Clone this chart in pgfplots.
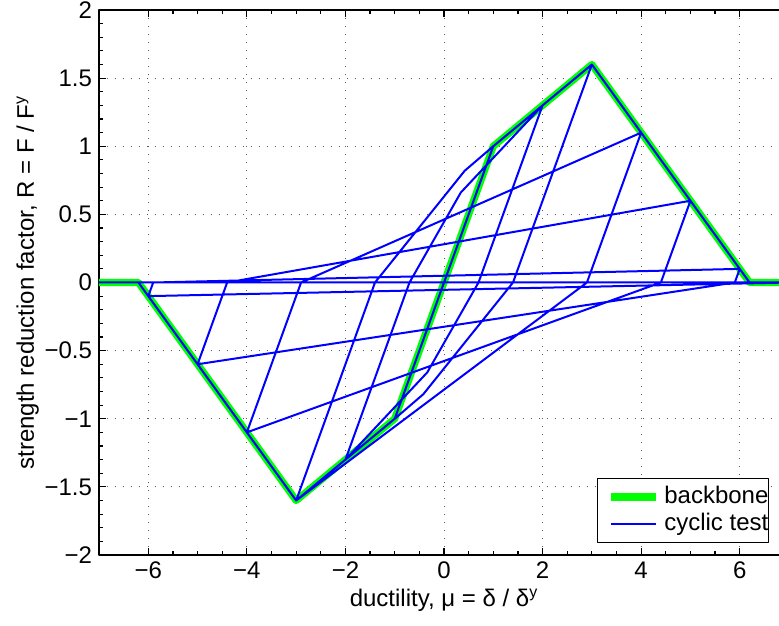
\documentclass[border=0pt]{standalone}
\usepackage{fontspec}
\setmainfont{Liberation Sans}
\usepackage{pgfplots}
\pgfplotsset{compat=1.18}
\definecolor{mgreen}{rgb}{0,1,0}
\definecolor{mblue}{rgb}{0,0,1}
\newcommand{\fs}{\fontsize{12}{14}\selectfont}
\begin{document}
\begin{tikzpicture}
\begin{axis}[
  scale only axis, width=345pt, height=272.5pt,
  xmin=-7, xmax=7, ymin=-2, ymax=2,
  xtick={-6,-4,-2,0,2,4,6},
  xticklabels={−6,−4,−2,0,2,4,6},
  ytick={-2,-1.5,-1,-0.5,0,0.5,1,1.5,2},
  yticklabels={−2,−1.5,−1,−0.5,0,0.5,1,1.5,2},
  minor x tick num=3, minor y tick num=4,
  tick align=inside, major tick length=3.5pt, minor tick length=1.8pt,
  grid=major,
  major grid style={black!65, line width=0.5pt, dash pattern=on 0.5pt off 3.5pt},
  axis line style={line width=0.6pt},
  every tick/.style={black, line width=0.6pt},
  tick label style={font=\fs},
  label style={font=\fs},
  xlabel={ductility, μ = δ / δ\textsuperscript{y}},
  ylabel={strength reduction factor, R = F / F\textsuperscript{y}},
  xlabel style={yshift=2pt},
  ylabel style={yshift=-4pt},
  legend style={at={(1,0)}, anchor=south east, xshift=-10pt, yshift=6pt,
    draw=black, line width=0.6pt, font=\fs, inner xsep=0pt, inner ysep=3.5pt,
    row sep=2pt,
    nodes={inner sep=0pt, text height=9pt, text depth=2.5pt}},
  legend cell align=left,
  legend image code/.code={\draw[#1] (5pt,0pt) -- (27.5pt,0pt); \path (0pt,0pt) (30pt,0pt);},
  line join=round,
]
\addplot[mgreen, line width=3.6pt, line join=round] coordinates {
(-7,0) (-6.2,0) (-3,-1.6) (-1,-1) (1,1) (3,1.6) (6.2,0) (7,0)};
\addlegendentry{backbone\hspace{1pt}}
\addplot[mblue, line width=1pt, line join=round] coordinates {
(0,0) (1,1) (0,0) (-1,-1) (0,0) (1,1) (2,1.3) (0.7,0) (-0.34,-0.66) (-2,-1.3)
(-0.7,0) (0.34,0.66) (2,1.3) (3,1.6) (1.4,0) (-0.42,-0.82) (-1,-1) (-2,-1.3)
(-3,-1.6) (-1.4,0) (0.42,0.82) (1,1) (2,1.3) (3,1.6)
(4,1.1) (2.9,0) (-3,-1.6) (-4,-1.1) (-2.9,0) (4,1.1) (5,0.6) (4.4,0)
(-4,-1.1) (-5,-0.6) (-4.4,0) (5,0.6) (6,0.1) (5.9,0) (-5,-0.6) (-6,-0.1)
(-5.9,0) (6,0.1) (6.2,0) (7,0) (-6,-0.1) (-6.2,0) (-7,0) (7,0)};
\addlegendentry{cyclic test\hspace{1pt}}
\end{axis}
\pgfresetboundingbox
\path[use as bounding box] ([xshift=-49.5pt,yshift=-35pt]current axis.south west) rectangle ([xshift=340pt,yshift=5pt]current axis.north west);
\end{tikzpicture}
\end{document}
